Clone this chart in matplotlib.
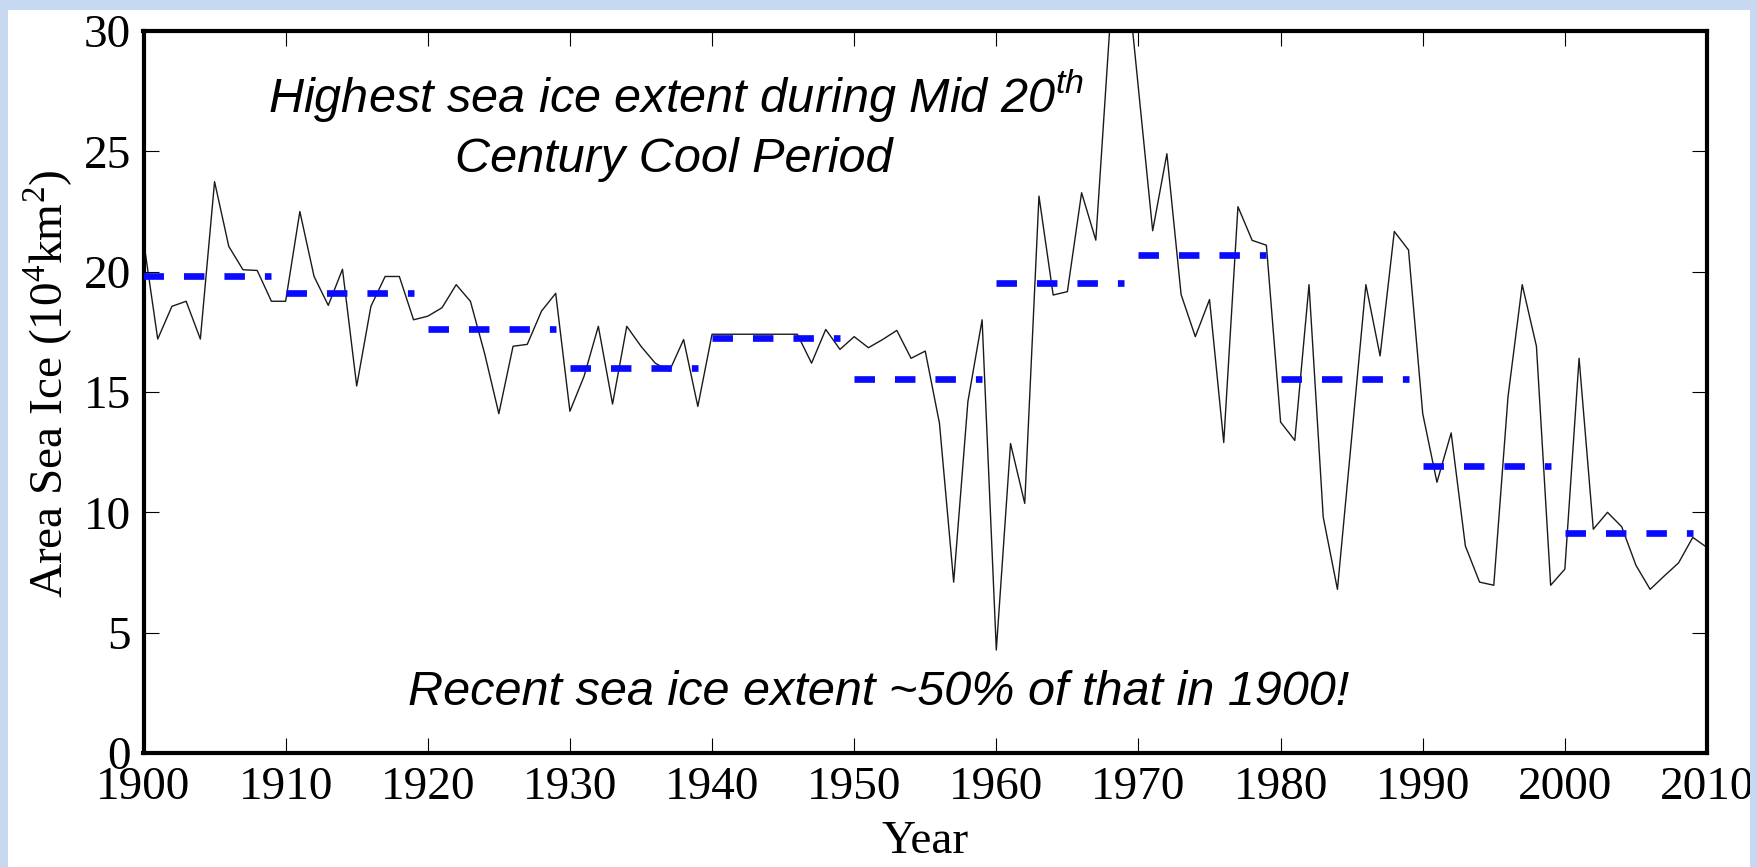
import matplotlib
matplotlib.use('Agg')
import matplotlib.pyplot as plt
from matplotlib.patches import Rectangle
import numpy as np

plt.rcParams['font.family'] = 'Liberation Serif'
plt.rcParams['mathtext.fontset'] = 'custom'
plt.rcParams['mathtext.rm'] = 'Liberation Serif'
plt.rcParams['mathtext.sf'] = 'Liberation Sans:italic'

# annual sea ice area, 1900-2010 (10^4 km^2)
years = np.arange(1900, 2011)
area = [21.3, 17.2, 18.56, 18.77, 17.2, 23.74, 21.05, 20.08, 20.05, 18.77,
        18.77, 22.5, 19.8, 18.6, 20.1, 15.25, 18.56, 19.8, 19.8, 18.0,
        18.15, 18.5, 19.46, 18.77, 16.6, 14.1, 16.9, 16.98, 18.36, 19.1,
        14.2, 15.66, 17.73, 14.5, 17.73, 16.9, 16.2, 15.87, 17.18, 14.4,
        17.4, 17.4, 17.4, 17.4, 17.4, 17.4, 17.4, 16.2, 17.6, 16.77,
        17.3, 16.84, 17.18, 17.56, 16.4, 16.7, 13.7, 7.1, 14.6, 18.0,
        4.28, 12.86, 10.37, 23.14, 19.03, 19.17, 23.28, 21.31, 30.3, 33.5,
        27.6, 21.7, 24.9, 19.05, 17.3, 18.84, 12.9, 22.7, 21.3, 21.1,
        13.75, 12.99, 19.46, 9.8, 6.8, 13.1, 19.46, 16.5, 21.67, 20.9,
        14.1, 11.25, 13.3, 8.6, 7.1, 6.97, 14.8, 19.46, 16.9, 6.97,
        7.64, 16.4, 9.3, 10.0, 9.4, 7.8, 6.8, 7.36, 7.9, 8.96,
        8.54]

# decadal means
decades = [1900, 1910, 1920, 1930, 1940, 1950, 1960, 1970, 1980, 1990, 2000]
dec_mean = [19.8, 19.1, 17.6, 16.0, 17.25, 15.55, 19.52, 20.69, 15.52, 11.94, 9.14]

W, H = 1757, 867
fig = plt.figure(figsize=(W / 100, H / 100), dpi=100, facecolor='white')
ax = fig.add_axes([143.5 / W, 1 - 753 / H, (1707 - 143.5) / W, (753 - 31) / H])

ax.plot(years, area, color='#1a1a1a', lw=1.0, zorder=2)
for d, m in zip(decades, dec_mean):
    ax.plot([d, d + 9], [m, m], color='#0a0aff', lw=4.8, dashes=(3.07, 3.0),
            solid_capstyle='butt', zorder=3)

ax.set_xlim(1900, 2010)
ax.set_ylim(0, 30)
ax.set_xticks(np.arange(1900, 2011, 10))
ax.set_yticks(np.arange(0, 31, 5))
ax.tick_params(direction='in', length=11, width=0.8, top=True, right=True,
               labelsize=34, colors='black')
ax.tick_params(axis='x', pad=10)
ax.tick_params(axis='y', pad=9)
for s in ax.spines.values():
    s.set_linewidth(3.0)

ax.set_xlabel('Year', fontsize=34, labelpad=8)
ax.set_ylabel('Area Sea Ice (10$^4$km$^2$)', fontsize=34)
ax.yaxis.set_label_coords(-0.044, 0.512)

ann = dict(family='Liberation Sans', style='italic', fontsize=35, va='baseline', ha='center')
fig.text(676 / W, 1 - 113 / H, r'Highest sea ice extent during Mid 20$^{\mathsf{th}}$', **ann)
fig.text(674 / W, 1 - 172 / H, 'Century Cool Period', **ann)
fig.text(879 / W, 1 - 705 / H, 'Recent sea ice extent ~50% of that in 1900!', **ann)

# light blue frame around the slide panel
frame = '#c6d9f1'
for x0, y0, w, h in [(0, 0, 8, H), (0, H - 10, W, 10), (1750, 0, W - 1750, H)]:
    fig.patches.append(Rectangle((x0 / W, y0 / H), w / W, h / H, transform=fig.transFigure,
                                 facecolor=frame, edgecolor='none', zorder=5))

fig.savefig('out.png', dpi=100)
